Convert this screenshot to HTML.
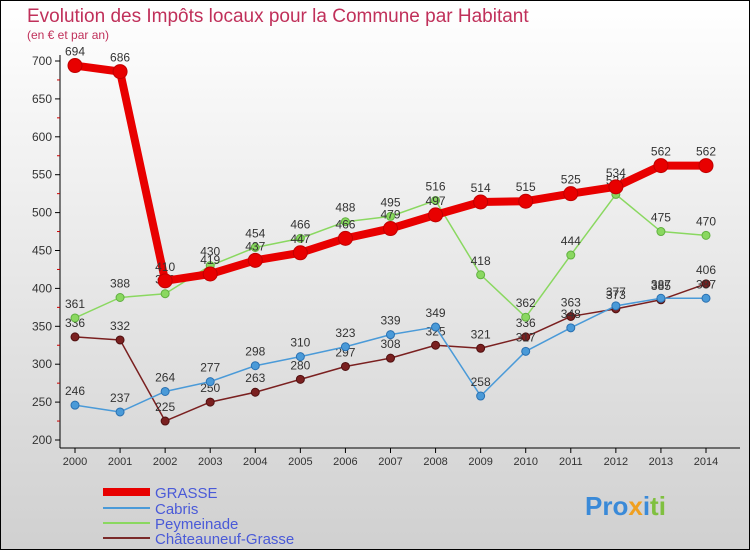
<!DOCTYPE html>
<html><head><meta charset="utf-8"><style>
body{margin:0;width:750px;height:550px;overflow:hidden;font-family:"Liberation Sans",sans-serif}
svg text{font-family:"Liberation Sans",sans-serif}
</style></head><body>
<svg id="c" width="750" height="550" xmlns="http://www.w3.org/2000/svg">
<defs><linearGradient id="bg" x1="0" y1="0" x2="0" y2="1"><stop offset="0" stop-color="#ffffff"/><stop offset="1" stop-color="#d0d0d0"/></linearGradient></defs>
<rect x="0.5" y="0.5" width="749" height="549" fill="url(#bg)" stroke="#000"/>
<text x="27" y="22" font-size="19" fill="#c0305a">Evolution des Impôts locaux pour la Commune par Habitant</text>
<text x="27" y="39" font-size="12" fill="#c0305a">(en € et par an)</text>
<g id="axes"></g><g id="series"></g>
<g>
<line x1="103" y1="492" x2="150" y2="492" stroke="#e80000" stroke-width="8"/>
<text x="155" y="498" font-size="15" fill="#4a5ad8">GRASSE</text>
<line x1="103" y1="508" x2="150" y2="508" stroke="#4a9ad8" stroke-width="2"/>
<text x="155" y="514" font-size="15" fill="#4a5ad8">Cabris</text>
<line x1="103" y1="523" x2="150" y2="523" stroke="#8ad860" stroke-width="2"/>
<text x="155" y="529" font-size="15" fill="#4a5ad8">Peymeinade</text>
<line x1="103" y1="538" x2="150" y2="538" stroke="#7a2a2a" stroke-width="2"/>
<text x="155" y="544" font-size="15" fill="#4a5ad8">Châteauneuf-Grasse</text>
</g>
<text x="585" y="515" font-size="26" font-weight="bold" fill="#3a8ad8">Pro<tspan fill="#f0a020">x</tspan><tspan fill="#3a8ad8">i</tspan><tspan fill="#80c040">ti</tspan></text>
</svg>
<script>
const years=[2000,2001,2002,2003,2004,2005,2006,2007,2008,2009,2010,2011,2012,2013,2014];
const grasse=[694,686,410,419,437,447,466,479,497,514,515,525,534,562,562];
const cabris=[246,237,264,277,298,310,323,339,349,258,317,348,377,387,387];
const peymeinade=[361,388,393,430,454,466,488,495,516,418,362,444,524,475,470];
const chateauneuf=[336,332,225,250,263,280,297,308,325,321,336,363,373,385,406];
const yTicks=[200,250,300,350,400,450,500,550,600,650,700];
const NS="http://www.w3.org/2000/svg";
function X(i){return 75+i*(706-75)/14;}
function Y(v){return 440-(v-200)*(440-61)/500;}
function mk(tag,attrs,parent,txt){const e=document.createElementNS(NS,tag);for(const k in attrs)e.setAttribute(k,attrs[k]);if(txt!==undefined)e.textContent=txt;parent.appendChild(e);return e;}
const ax=document.getElementById('axes');
let a=mk('line',{x1:60,y1:55,x2:60,y2:448,stroke:'#000'},ax);


a=mk('line',{x1:60,y1:448,x2:740,y2:448,stroke:'#000'},ax);


yTicks.forEach((t,k)=>{
 mk('line',{x1:55,y1:Y(t),x2:60,y2:Y(t),stroke:'#000'},ax);
 if(k<yTicks.length-1)mk('line',{x1:57,y1:Y(t+25),x2:60,y2:Y(t+25),stroke:'#c00'},ax);
 const e=mk('text',{x:52,y:Y(t)+4,'font-size':12,'text-anchor':'end',fill:'#333'},ax,t);
 
 
});
years.forEach((yr,i)=>{
 mk('line',{x1:X(i),y1:448,x2:X(i),y2:453,stroke:'#000'},ax);
 const e=mk('text',{x:X(i),y:465,'font-size':11,'text-anchor':'middle',fill:'#333'},ax,yr);
 
 
});
const sg=document.getElementById('series');
function draw(vals,color,w,r,name,dotStroke){
 const g=mk('g',{},sg);
 
 
 const pts=vals.map((v,i)=>X(i)+','+Y(v)).join(' ');
 const l=mk('polyline',{points:pts,fill:'none',stroke:color,'stroke-width':w,'stroke-linejoin':'round'},g);
 
 
 vals.forEach((v,i)=>{
  const c=mk('circle',{cx:X(i),cy:Y(v),r:r,fill:color,stroke:dotStroke,'stroke-width':1},g);
  
  
  const t=mk('text',{x:X(i),y:Y(v)-10,'font-size':12,'text-anchor':'middle',fill:'#333'},g,v);
  
  
 });
}
draw(chateauneuf,'#7a2020',1.5,4,'chateauneuf','#501010');
draw(peymeinade,'#8ad860',1.5,4,'peymeinade','#60b040');
draw(cabris,'#4a9ad8',1.5,4,'cabris','#2a70b0');
draw(grasse,'#e80000',8,7,'grasse','#c00000');
</script>
</body></html>
